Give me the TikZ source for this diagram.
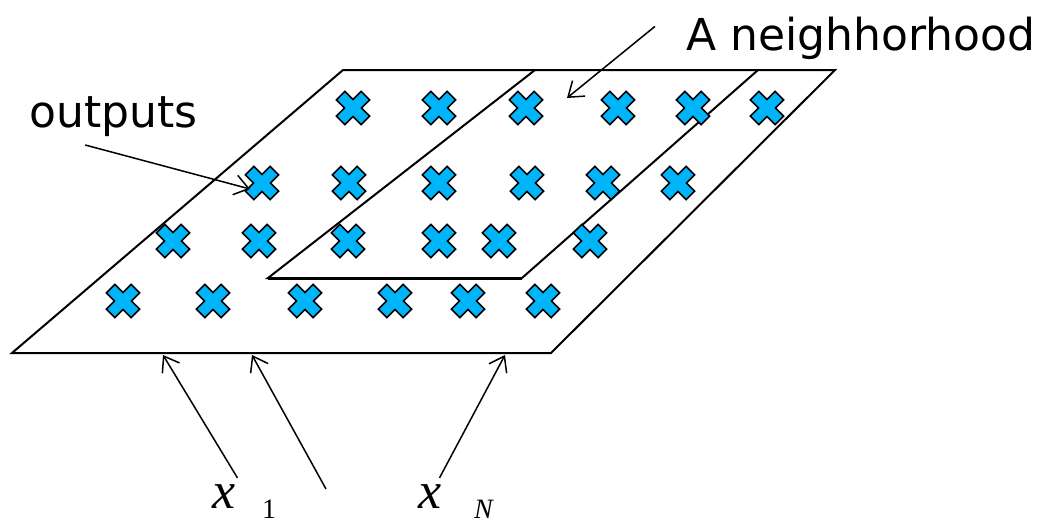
\documentclass[tikz,border=0pt]{standalone}
\usepackage{fontspec}
\setsansfont{DejaVu Sans}
\newfontfamily\labelserif{Liberation Serif}
\usetikzlibrary{arrows.meta}
\definecolor{crossblue}{RGB}{0,180,250}

\tikzset{
  outcross/.pic={
    \filldraw[fill=crossblue, draw=black, line width=1.6pt, rotate=45]
      (6,6) -- (17.5,6) -- (17.5,-6) -- (6,-6) -- (6,-17.5) -- (-6,-17.5)
      -- (-6,-6) -- (-17.5,-6) -- (-17.5,6) -- (-6,6) -- (-6,17.5) -- (6,17.5) -- cycle;
  },
  lbl/.style={font=\sffamily\fontsize{44}{44}\selectfont, inner sep=0pt},
  varx/.style={font=\labelserif\itshape\fontsize{52}{52}\selectfont, inner sep=0pt},
  subx/.style={font=\labelserif\fontsize{28}{28}\selectfont, inner sep=0pt},
  arr/.style={-{Straight Barb[length=14pt,width=20pt]}, line width=1.5pt},
  plane/.style={line width=2pt},
}

\begin{document}
\begin{tikzpicture}[x=1pt, y=-1pt]
\useasboundingbox (0,0) rectangle (1047,522);

% Map plane
\draw[plane] (12,353) -- (551,353) -- (835,70) -- (343,70) -- cycle;
% Neighborhood
\draw[plane] (535,70) -- (268,278) -- (522,278) -- (758,70);
\draw[line width=3pt] (268,278) -- (522,278);

% Output units
\foreach \x in {353,439,526,618,693,767} \pic at (\x,108) {outcross};
\foreach \x in {262,349,439,527,603,678} \pic at (\x,183) {outcross};
\foreach \x in {173,259,348,439,499,590} \pic at (\x,241) {outcross};
\foreach \x in {123,213,305,395,468,543} \pic at (\x,301) {outcross};

% Labels
\node[lbl, anchor=base west] (outputs) at (29,127) {outputs};
\node[lbl, anchor=base west] (neigh) at (686,50) {A neighhorhood};
\coordinate (outtip) at (250,189);
\coordinate (neightip) at (567,98);
\draw[arr] ([xshift=-28pt,yshift=-18pt]outputs.base) -- (outtip);
\draw[arr] ([xshift=-31pt,yshift=-10pt]neigh.north west) -- (neightip);

% Inputs
\node[varx, anchor=base west] (x1) at (212,508) {x};
\node[subx, anchor=base west] (s1) at (262,518) {1};
\node[varx, anchor=base west] (xN) at (418,508) {x};
\node[subx, anchor=base west] (sN) at (474,518) {\itshape N};
\coordinate (mid) at (326,489);
\coordinate (in1) at (163,355);
\coordinate (in2) at (252,355);
\coordinate (inN) at (505,355);
\draw[arr] ([xshift=2pt,yshift=6pt]x1.north east) -- (in1);
\draw[arr] (mid) -- (in2);
\draw[arr] ([xshift=-2pt,yshift=6pt]xN.north east) -- (inN);
\end{tikzpicture}
\end{document}
